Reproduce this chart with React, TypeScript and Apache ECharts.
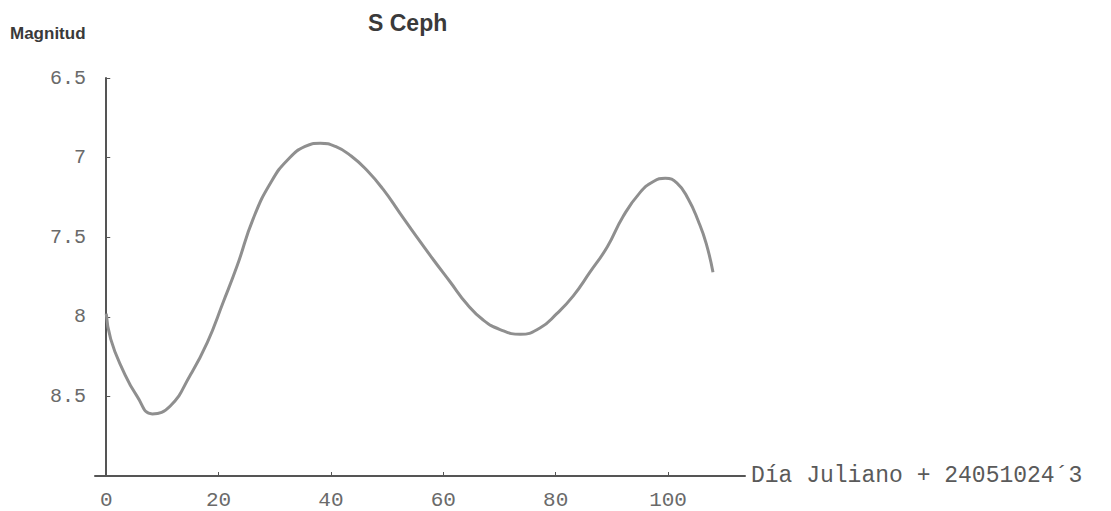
import React, { useEffect, useRef } from "react";
import * as echarts from "echarts";

const julianDays = [
  0, 0.8, 2.9, 5.5, 8.2, 11.4, 14.9, 18.0, 20.8, 23.3, 26.2, 29.4, 32.4, 35.4,
  38.1, 40.8, 43.6, 46.4, 49.3, 52.3, 55.3, 58.2, 61.2, 64.2, 67.1, 70.1, 73.7,
  77.2, 80.2, 83.1, 86.1, 89.2, 92.0, 95.0, 97.4, 99.5, 101.6, 103.6, 105.4,
  106.8, 108.0,
];
const magnitudes = [
  7.98, 8.14, 8.33, 8.5, 8.61, 8.56, 8.37, 8.16, 7.91, 7.68, 7.38, 7.15, 7.01,
  6.93, 6.91, 6.93, 6.99, 7.08, 7.2, 7.35, 7.5, 7.64, 7.78, 7.92, 8.02, 8.08,
  8.11, 8.07, 7.98, 7.87, 7.72, 7.56, 7.37, 7.22, 7.15, 7.13, 7.16, 7.26, 7.4,
  7.54, 7.72,
];
const xTicks = [0, 20, 40, 60, 80, 100];
const chartTitle = "S Ceph";
const yTitle = "Magnitud";
const xTitle = "Día Juliano + 24051024´3";

export default function App() {
  const ref = useRef<HTMLDivElement>(null);
  useEffect(() => {
    if (!ref.current) return;
    const chart = echarts.init(ref.current, null, { renderer: "svg" });
    const mono = "'Liberation Mono', 'Courier New', monospace";
    chart.setOption({
      animation: false,
      backgroundColor: "#ffffff",
      title: [
        {
          text: chartTitle,
          left: 368,
          top: 11,
          padding: 0,
          textStyle: { fontFamily: "'Liberation Sans', Arial, sans-serif", fontWeight: "bold", fontSize: 23, color: "#3a3a3a" },
        },
        {
          text: yTitle,
          left: 10,
          top: 25,
          padding: 0,
          textStyle: { fontFamily: "'Liberation Sans', Arial, sans-serif", fontWeight: "bold", fontSize: 17, color: "#3a3a3a" },
        },
      ],
      grid: { left: 95, top: 78, width: 650, height: 399, containLabel: false },
      xAxis: {
        type: "value",
        min: -2,
        max: 113.7,
        position: "bottom",
        axisLine: { onZero: false, lineStyle: { color: "#555", width: 2 } },
        axisTick: { show: true, inside: true, length: 4, customValues: xTicks, lineStyle: { color: "#555" } },
        axisLabel: { customValues: xTicks, margin: 14, fontFamily: mono, fontSize: 21, color: "#6a6a6a" },
        splitLine: { show: false },
        name: xTitle,
        nameLocation: "end",
        nameGap: 6,
        nameTextStyle: { fontFamily: mono, fontSize: 23, color: "#5a5a5a", verticalAlign: "middle", padding: [0, 0, 24, 0] },
      },
      yAxis: {
        type: "value",
        inverse: true,
        min: 6.5,
        max: 9,
        interval: 0.5,
        axisLine: { show: true, onZero: true, lineStyle: { color: "#555", width: 2 } },
        axisTick: { show: true, inside: true, length: 4, lineStyle: { color: "#555" } },
        axisLabel: {
          margin: 9,
          fontFamily: mono,
          fontSize: 20,
          color: "#6a6a6a",
          formatter: (v: number) => (v >= 9 ? "" : String(v)),
        },
        splitLine: { show: false },
      },
      series: [
        {
          type: "line",
          data: julianDays.map((d, i) => [d, magnitudes[i]]),
          smooth: 0.5,
          showSymbol: false,
          lineStyle: { color: "#8f8f8f", width: 3 },
        },
      ],
    });
    return () => chart.dispose();
  }, []);
  return <div ref={ref} style={{ position: "absolute", left: 0, top: 0, width: 1111, height: 511 }} />;
}
